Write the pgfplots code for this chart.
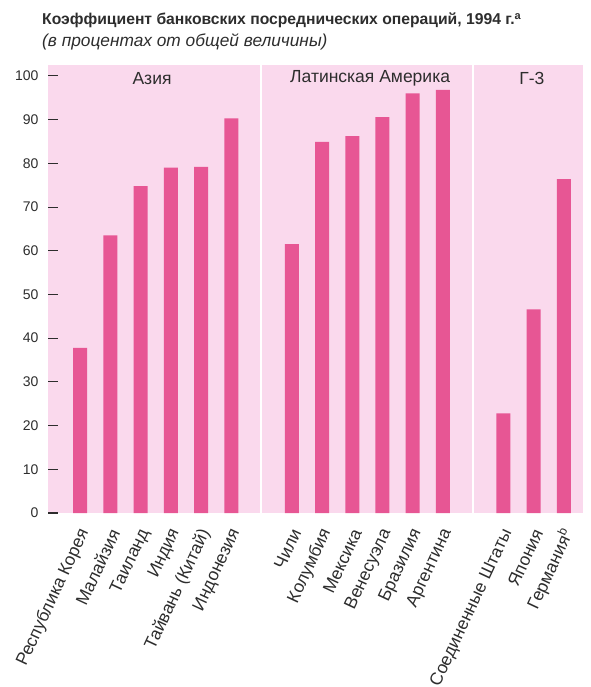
\documentclass[border=0pt]{standalone}
\usepackage{fontspec}
\setmainfont{Liberation Sans}
\usepackage{pgfplots}
\pgfplotsset{compat=1.18}
\definecolor{barpink}{RGB}{231,86,148}
\definecolor{bgpink}{RGB}{250,217,237}
\definecolor{txt}{RGB}{45,45,45}
\begin{document}
\begin{tikzpicture}
\path[use as bounding box] (0pt,0pt) rectangle (590pt,-687pt);
\node[anchor=base west, font=\fontsize{15.7}{17}\selectfont\bfseries, text=txt, inner sep=0] at (42pt,-25pt) {Коэффициент банковских посреднических операций, 1994 г.\textsuperscript{a}};
\node[anchor=base west, font=\fontsize{17.3}{19}\selectfont\itshape, text=txt, inner sep=0] at (42pt,-47pt) {(в процентах от общей величины)};
\begin{axis}[
  at={(48pt,-513pt)}, anchor=south west, scale only axis, width=535pt, height=448pt,
  xmin=-1.06, xmax=16.63, ymin=0, ymax=102.5,
  axis background/.style={fill=bgpink},
  axis line style={draw=none},
  ytick={0,10,...,100},
  ytick pos=left,
  tick align=inside,
  major tick length=10pt,
  ytick style={draw=txt, line width=1.1pt},
  xtick style={draw=none},
  /pgf/number format/assume math mode=true,
  yticklabel style={font=\fontsize{14}{15}\selectfont, text=txt, xshift=-6pt},
  xtick={0,1,2,3,4,5,7,8,9,10,11,12,14,15,16},
  xticklabels={Республика Корея, Малайзия, Таиланд, Индия, {Тайвань (Китай)}, Индонезия, Чили, Колумбия, Мексика, Венесуэла, Бразилия, Аргентина, Соединенные Штаты, Япония, Германия\textsuperscript{b}},
  xticklabel style={font=\fontsize{17.5}{19}\selectfont, text=txt, xshift=6pt, yshift=-14pt, rotate=65, anchor=east},
  clip=false,
]
\draw[white, line width=2pt] (axis cs:5.97,0) -- (axis cs:5.97,102.5);
\draw[white, line width=2pt] (axis cs:12.99,0) -- (axis cs:12.99,102.5);
\addplot[ybar, bar width=14pt, fill=barpink, draw=none] coordinates {
 (0,37.8) (1,63.5) (2,74.8) (3,79.0) (4,79.2) (5,90.3)
 (7,61.5) (8,84.9) (9,86.2) (10,90.6) (11,96.0) (12,96.8)
 (14,22.8) (15,46.6) (16,76.4)};
\node[font=\fontsize{17.5}{19}\selectfont, text=txt] at (axis cs:2.38,99.4) {Азия};
\node[font=\fontsize{17.5}{19}\selectfont, text=txt] at (axis cs:9.59,99.4) {Латинская Америка};
\node[font=\fontsize{17.5}{19}\selectfont, text=txt] at (axis cs:14.94,99.4) {Г-3};
\end{axis}
\end{tikzpicture}
\end{document}
